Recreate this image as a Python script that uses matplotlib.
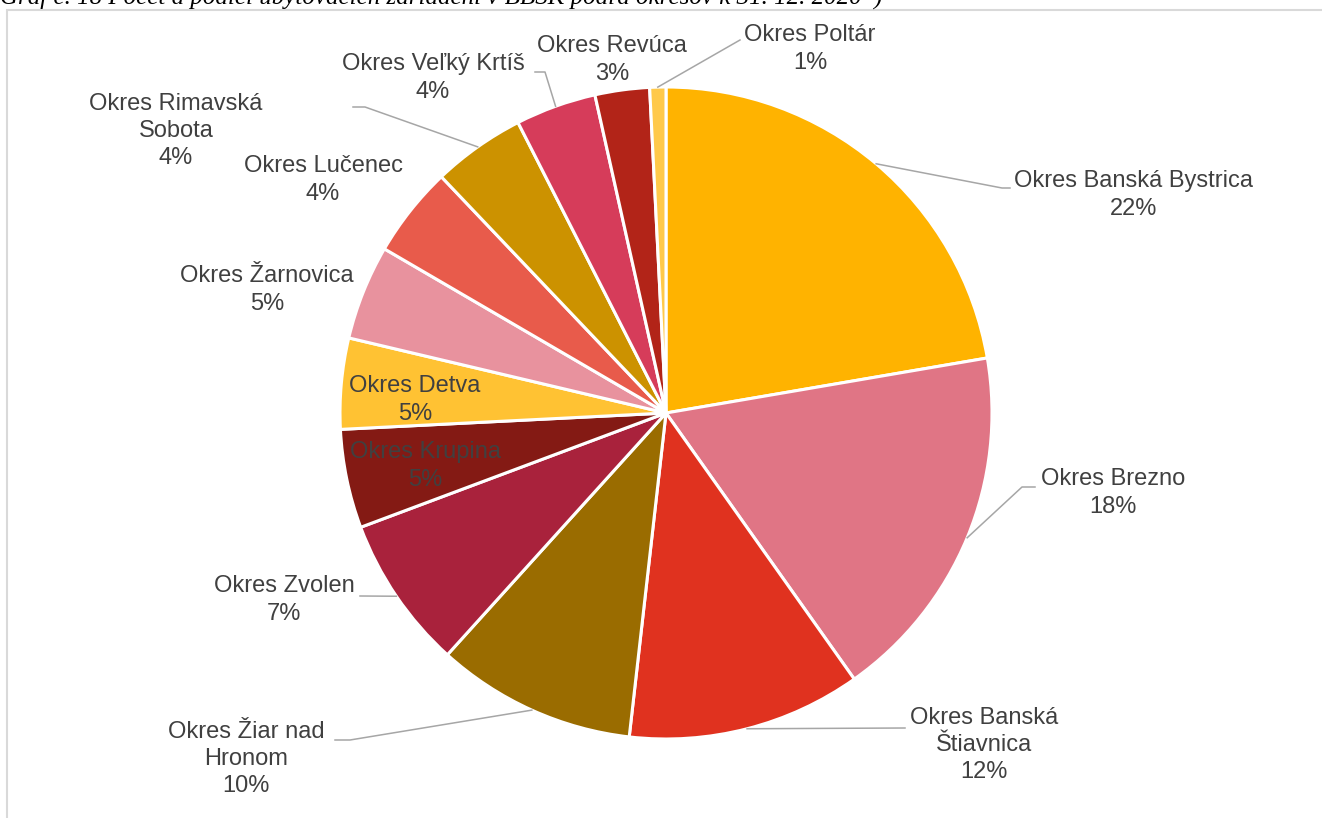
import numpy as np
import matplotlib
matplotlib.use("Agg")
import matplotlib.pyplot as plt
from matplotlib.patches import Rectangle

# share of districts
okresy = ["Okres Banská Bystrica", "Okres Brezno", "Okres Banská\nŠtiavnica",
          "Okres Žiar nad\nHronom", "Okres Zvolen", "Okres Krupina", "Okres Detva",
          "Okres Žarnovica", "Okres Lučenec", "Okres Rimavská\nSobota",
          "Okres Veľký Krtíš", "Okres Revúca", "Okres Poltár"]
podiel = [22.3, 17.9, 11.6, 9.9, 7.6, 4.9, 4.5, 4.7, 4.5, 4.6, 4.0, 2.7, 0.8]
percenta = ["22%", "18%", "12%", "10%", "7%", "5%", "5%", "5%", "4%", "4%", "4%", "3%", "1%"]

farby = ["#FFB300", "#E07585", "#E0321F", "#9A6C00", "#A9223C", "#841A14", "#FFC233",
         "#E8929E", "#E85B4B", "#CC9200", "#D63C5A", "#B22418", "#FFC94A"]

W, H = 1322, 818
CX, CY, R = 666, 413, 326

def px(x, y):
    # pixel -> data coords (pie radius = 1)
    return (x - CX) / R, (CY - y) / R

# label centres in pixels, and leader line bends (None = no leader)
lab_pos = [(1134, 195), (1113, 493), (984, 745), (246, 759), (284, 600), (425, 466),
           (415, 400), (267, 290), (323, 180), (176, 131), (433, 78), (612, 60), (810, 49)]
leader = [[(1002, 188), (1010, 188)], [(1022, 487), (1035, 487)], [(905, 728)],
          [(350, 740), (335, 740)], [(360, 596)], None, None, None, None,
          [(365, 107), (353, 107)], [(545, 72), (535, 72)], None, [(740, 40)]]

fig = plt.figure(figsize=(W / 100, H / 100), dpi=100)
ax = fig.add_axes([0, 0, 1, 1])

wedges, _ = ax.pie(podiel, colors=farby, startangle=90, counterclock=False, radius=1,
                   wedgeprops=dict(edgecolor="white", linewidth=2.2))
ax.set_xlim(-CX / R, (W - CX) / R)
ax.set_ylim((CY - H) / R, CY / R)
ax.set_aspect("equal")
ax.axis("off")

for i, w in enumerate(wedges):
    tx, ty = px(*lab_pos[i])
    ax.text(tx, ty, okresy[i] + "\n" + percenta[i], ha="center", va="center",
            fontsize=17, color="#404040", family="Liberation Sans", linespacing=1.32)
    if leader[i] is not None:
        mid = np.deg2rad((w.theta1 + w.theta2) / 2)
        xs = [np.cos(mid)]
        ys = [np.sin(mid)]
        for p in leader[i]:
            x, y = px(*p)
            xs.append(x)
            ys.append(y)
        ax.plot(xs, ys, color="#A6A6A6", linewidth=1.1)

# chart frame
fig.patches.append(Rectangle((7 / W, -0.1), 1.2, 1 - 10 / H + 0.1, transform=fig.transFigure,
                             fill=False, edgecolor="#D9D9D9", linewidth=1.5))
# caption cut off at top (as in the source)
fig.text(0.0, 1 - 4 / H, "Graf č. 18 Počet a podiel ubytovacích zariadení v BBSK podľa okresov k 31. 12. 2020*)",
         ha="left", va="baseline", fontsize=18, style="italic", family="Liberation Serif", color="black")

fig.savefig("out.png", dpi=100)
